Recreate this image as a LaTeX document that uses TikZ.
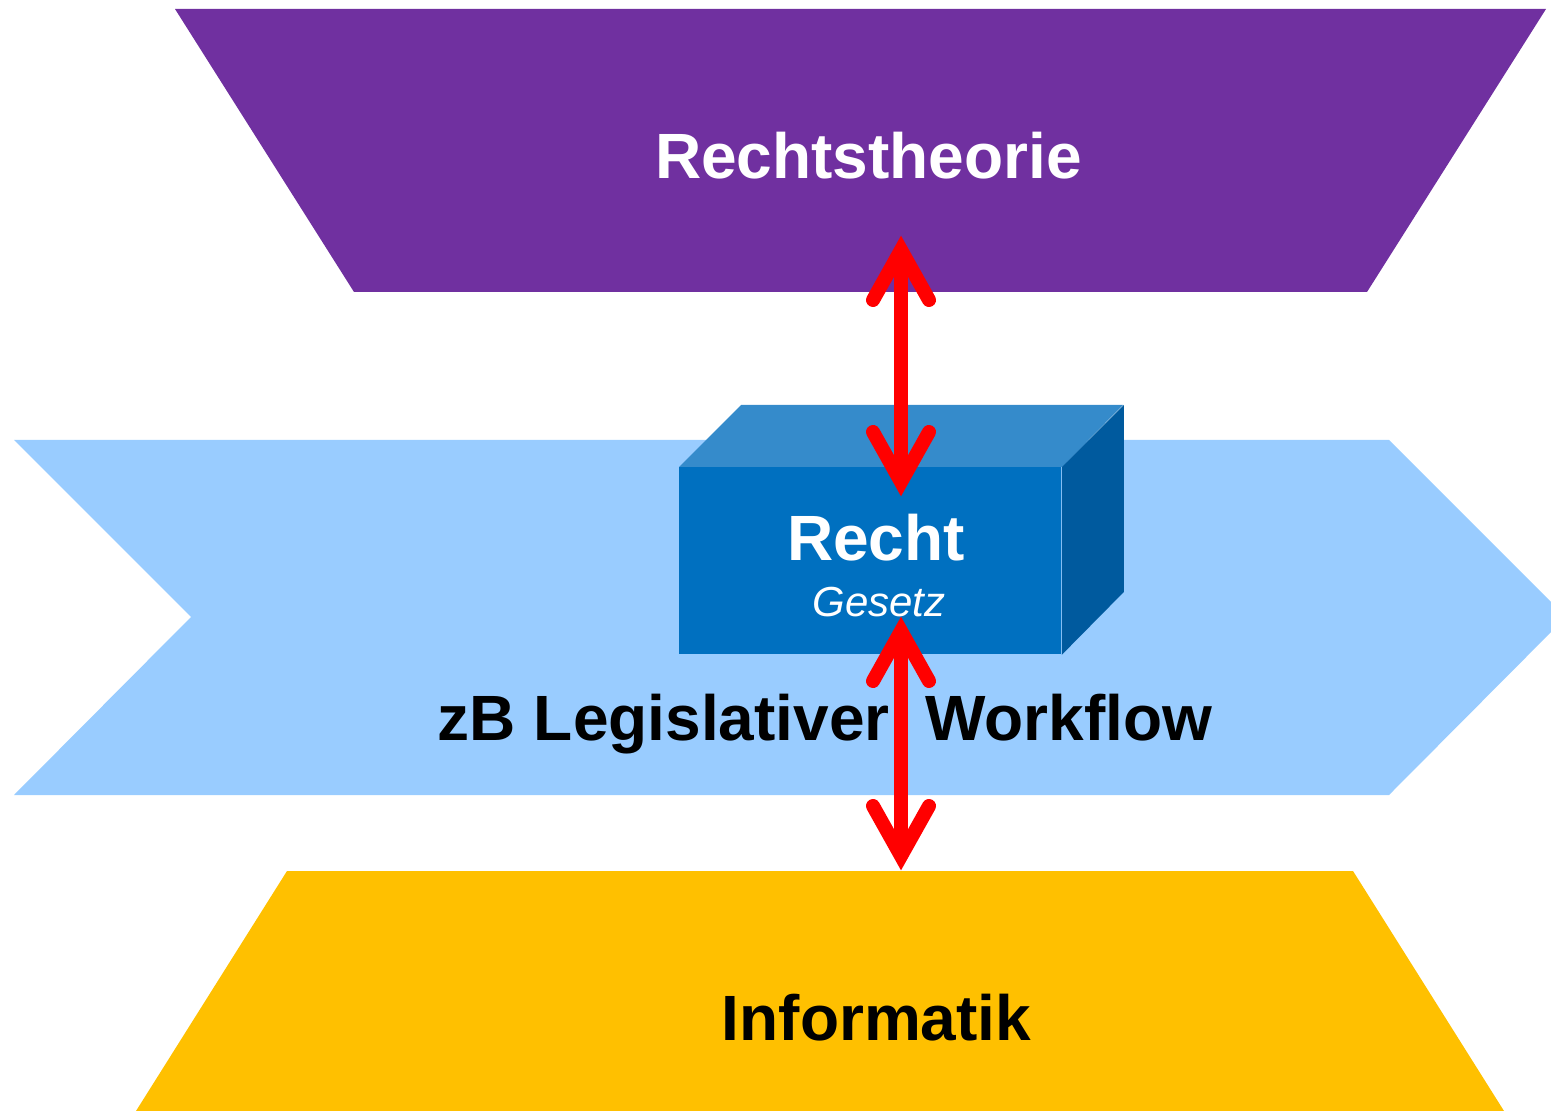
\documentclass[tikz,border=0pt]{standalone}
\usepackage{fontspec}
\setmainfont{Liberation Sans}
\usetikzlibrary{calc}
\definecolor{purp}{HTML}{7030A0}
\definecolor{lblue}{HTML}{99CCFF}
\definecolor{gold}{HTML}{FFC000}
\definecolor{boxfront}{HTML}{0070C0}
\definecolor{boxtop}{HTML}{358BCB}
\definecolor{boxside}{HTML}{005A9E}
\definecolor{arrred}{HTML}{FF0000}
\begin{document}
\begin{tikzpicture}[x=0.5pt,y=-0.5pt,
  big/.style={inner sep=0pt, anchor=base, font=\fontsize{32}{38}\selectfont\bfseries},
  small/.style={inner sep=0pt, anchor=base, font=\fontsize{21}{25}\selectfont\itshape},
  shaft/.style={draw=arrred, line width=7pt},
  head/.style={draw=arrred, line width=7pt, line cap=round, line join=miter}]
\useasboundingbox (0,0) rectangle (1551,1111);
\clip (0,0) rectangle (1551,1111);
% bands
\fill[purp] (175,9) -- (1546,9) -- (1367,292) -- (354,292) -- cycle;
\fill[lblue] (14,440) -- (1389,440) -- (1566,617) -- (1389,795) -- (14,795) -- (191,617) -- cycle;
\fill[gold] (287,871) -- (1353,871) -- (1504,1111) -- (136,1111) -- cycle;
% box
\node[fill=boxfront, inner sep=0pt, minimum width=191pt, minimum height=93.5pt, anchor=north west] (recht) at (679,467) {};
\fill[boxtop] (recht.north west) -- ++(62,-62) -- ++(382,0) -- (recht.north east) -- cycle;
\fill[boxside] (recht.north east) -- ++(62,-62) -- ++(0,187) -- (recht.south east) -- cycle;
% texts
\node[big, text=white] (rt) at (868.5,178.5) {Rechtstheorie};
\node[big, text=white] (rechtlbl) at (876,561) {Recht};
\node[small, text=white] (gesetz) at (879,616.5) {Gesetz};
\node[big, text=black] (wf) at (825,740) {zB Legislativer\ \ Workflow};
\node[big, text=black] (inf) at (876.5,1040) {Informatik};
% arrows
\coordinate (a1t) at (901,250);
\coordinate (a1b) at (901,482);
\coordinate (a2t) at (901,631);
\coordinate (a2b) at (901,856);
\draw[shaft] (a1t) -- (a1b);
\draw[head] ($(a1t)+(-28,50)$) -- (a1t) -- ($(a1t)+(28,50)$);
\draw[head] ($(a1b)+(-28,-50)$) -- (a1b) -- ($(a1b)+(28,-50)$);
\draw[shaft] (a2t) -- (a2b);
\draw[head] ($(a2t)+(-28,50)$) -- (a2t) -- ($(a2t)+(28,50)$);
\draw[head] ($(a2b)+(-28,-50)$) -- (a2b) -- ($(a2b)+(28,-50)$);
\end{tikzpicture}
\end{document}
